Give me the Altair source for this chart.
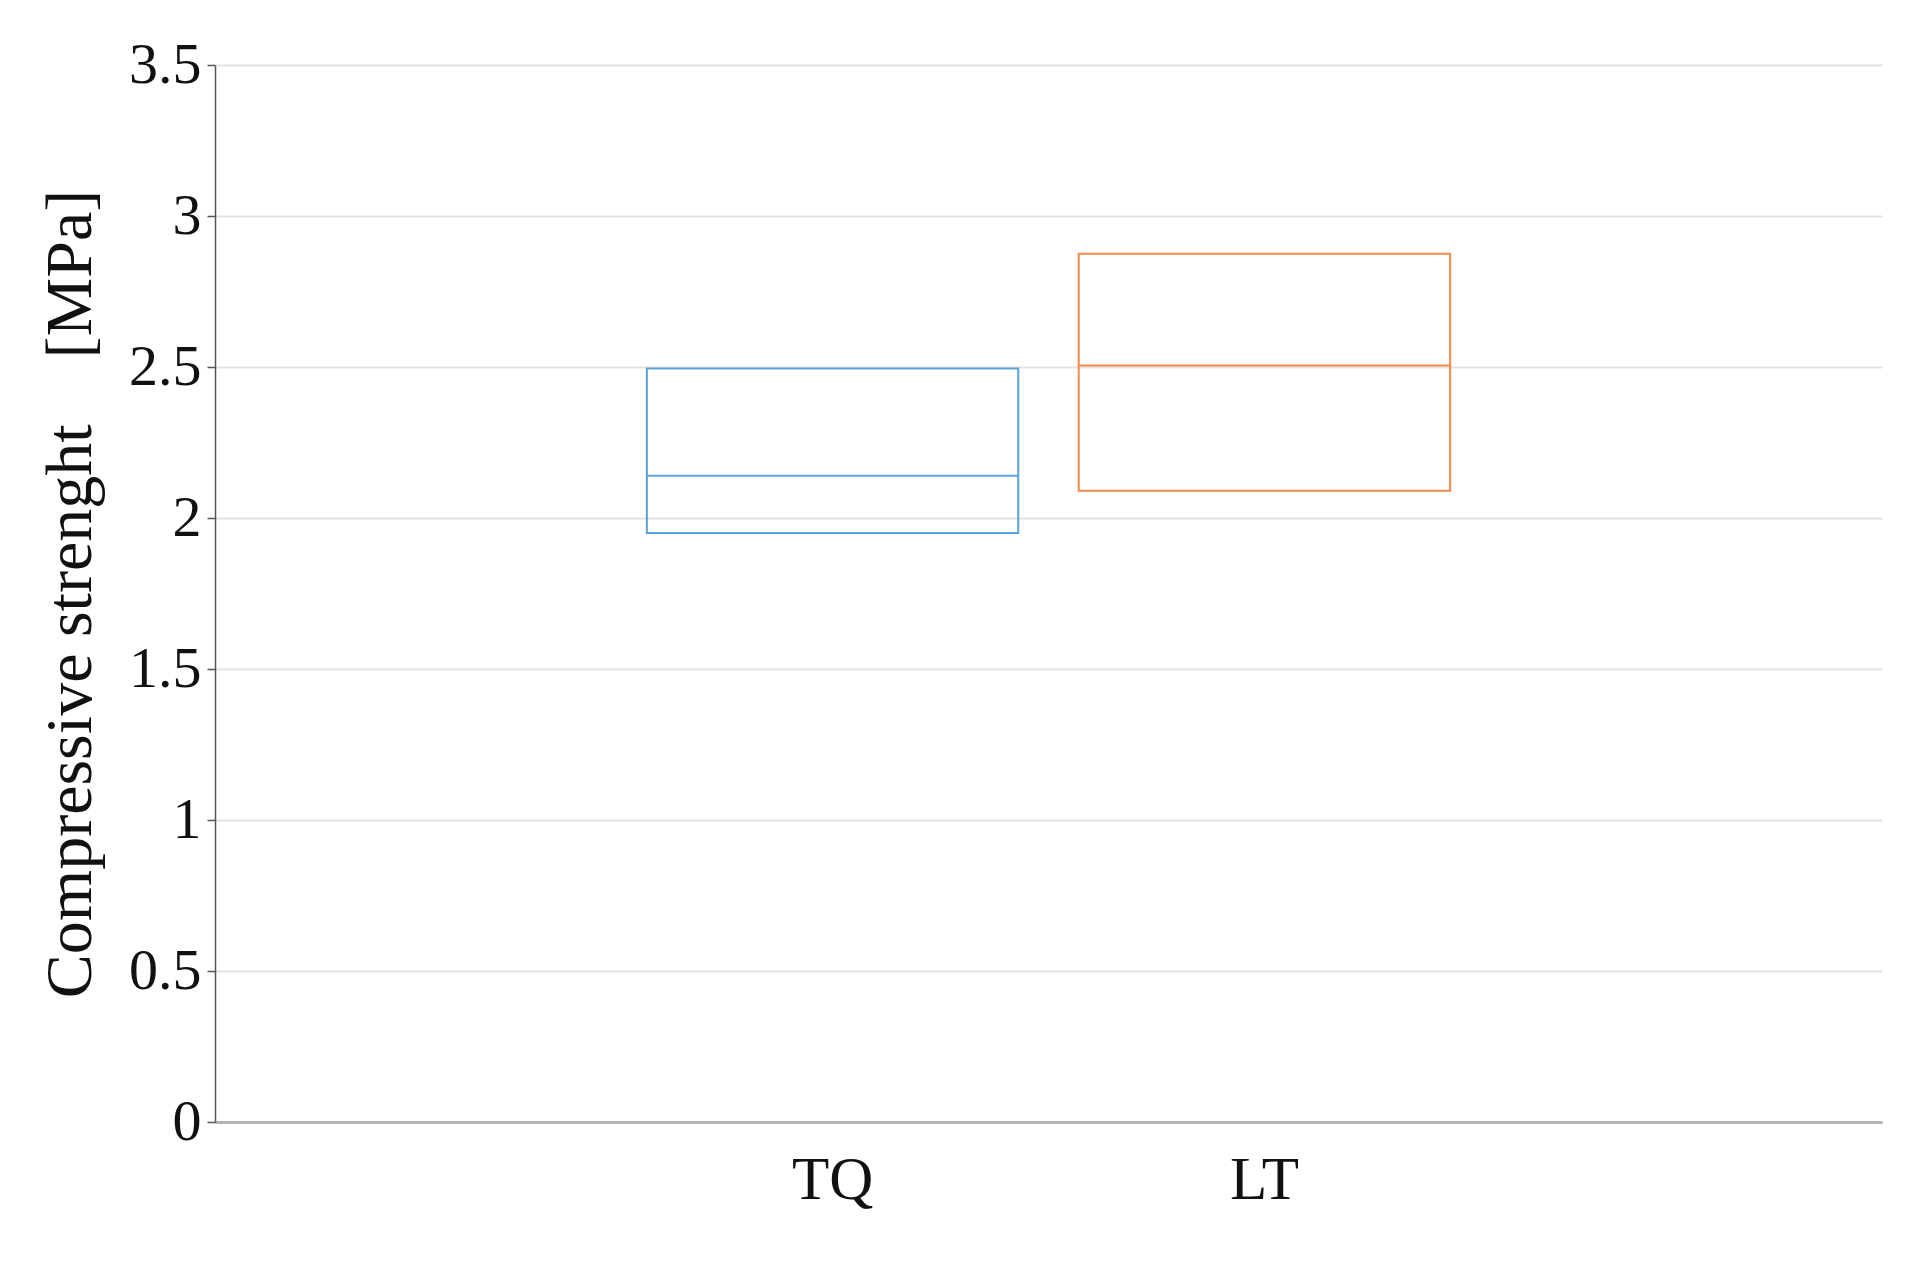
import altair as alt
import pandas as pd

categories = ["TQ", "LT"]
q1 = [1.95, 2.09]
median = [2.14, 2.505]
q3 = [2.495, 2.875]
colors = ["#5AA2DD", "#F7894A"]

df = pd.DataFrame({"cat": categories, "q1": q1, "median": median, "q3": q3})

FONT = "Liberation Serif"

x = alt.X(
    "cat:N",
    sort=categories,
    scale=alt.Scale(paddingInner=0.14, paddingOuter=1),
    axis=alt.Axis(
        title=None,
        labelAngle=0,
        labelFont=FONT,
        labelFontSize=61,
        labelColor="#111111",
        labelPadding=28,
        ticks=False,
        domainColor="#b4b4b4",
        domainWidth=3,
        grid=False,
    ),
)
yscale = alt.Scale(domain=[0, 3.5], nice=False, zero=True)
color = alt.Color("cat:N", sort=categories, scale=alt.Scale(domain=categories, range=colors), legend=None)

base = alt.Chart(df)

boxes = base.mark_bar(filled=False, strokeWidth=2).encode(
    x=x,
    y=alt.Y(
        "q1:Q",
        scale=yscale,
        title="Compressive strenght\u00a0\u00a0\u00a0 [MPa]",
        axis=alt.Axis(
            values=[0, 0.5, 1, 1.5, 2, 2.5, 3, 3.5],
            format="~g",
            labelFont=FONT,
            labelFontSize=58,
            labelColor="#111111",
            labelPadding=6,
            tickSize=8,
            tickColor="#555555",
            tickWidth=1.5,
            domainColor="#555555",
            domainWidth=1.5,
            gridColor="#e4e4e4",
            gridWidth=2,
            titleFont=FONT,
            titleFontSize=66,
            titleFontWeight="normal",
            titleColor="#111111",
            titlePadding=24,
        ),
    ),
    y2="q3:Q",
    stroke=color,
)

medians = base.mark_bar(filled=False, strokeWidth=2).encode(
    x=x,
    y=alt.Y("median:Q", scale=yscale),
    y2="median:Q",
    stroke=color,
)

chart = (
    alt.layer(boxes, medians)
    .properties(
        width=1667,
        height=1057,
        autosize=alt.AutoSizeParams(type="none"),
        padding={"left": 207, "top": 57, "right": 29, "bottom": 134},
        background="white",
    )
    .configure_view(stroke="transparent", strokeWidth=0)
)

chart.save("out.html", embed_options={"renderer": "svg", "actions": False})
